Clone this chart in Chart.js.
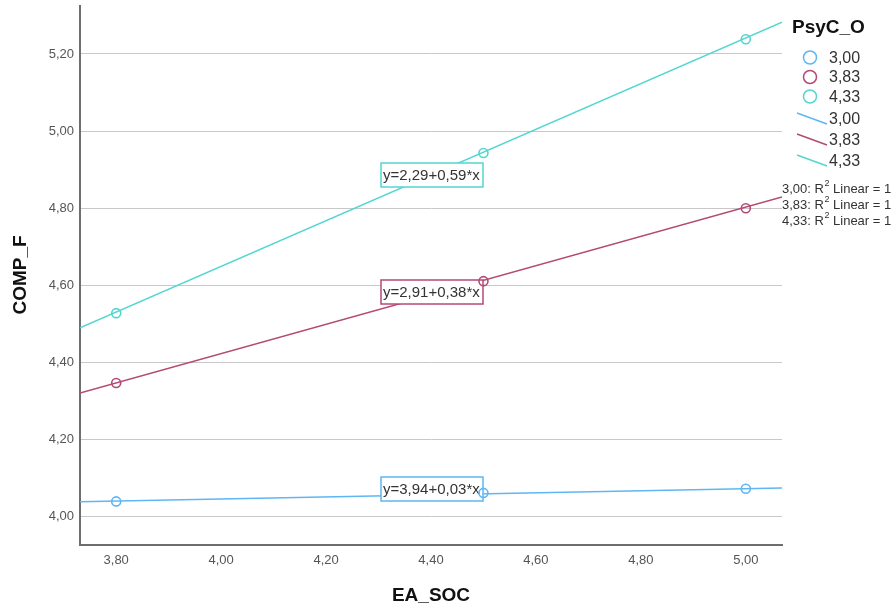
<!DOCTYPE html>
<html>
<head>
<meta charset="utf-8">
<script src="https://cdn.jsdelivr.net/npm/chart.js@4.4.1/dist/chart.umd.min.js"></script>
<style>
html, body { margin: 0; padding: 0; background: #fff; }
#wrap { width: 896px; height: 608px; }
</style>
</head>
<body>
<div id="wrap"><canvas id="chart" width="896" height="608"></canvas></div>
<script>
// groups of PsyC_O
const groups = ['3,00', '3,83', '4,33'];
const colors = ['#5db7f5', '#b44a74', '#52d6d0'];

// EA_SOC values of the points
const easoc = [3.80, 4.50, 5.00];
// COMP_F values per group
const compF = [
    [4.040, 4.062, 4.073],
    [4.347, 4.611, 4.800],
    [4.528, 4.943, 5.238]
];

// axis range
const xMin = 3.731, xMax = 5.069;
const yMin = 3.927, yMax = 5.324;

// fit line values read at the left and right end of the x axis
const fitLeft = [4.039, 4.321, 4.490];
const fitRight = [4.075, 4.829, 5.282];

const equations = ['y=3,94+0,03*x', 'y=2,91+0,38*x', 'y=2,29+0,59*x'];
// where the equation boxes sit (data units: left x, top y)
const eqBoxX = 4.305;
const eqBoxTop = [4.1036, 4.614, 4.917];

const fmt = v => v.toFixed(2).replace('.', ',');
const FONT = '"Liberation Sans", Arial, sans-serif';

const datasets = [];
groups.forEach((g, i) => {
    datasets.push({
        type: 'scatter',
        label: g,
        data: easoc.map((x, j) => ({ x: x, y: compF[i][j] })),
        borderColor: colors[i],
        backgroundColor: 'rgba(255,255,255,0)',
        pointRadius: 4.5,
        pointBorderWidth: 1.6,
        pointHoverRadius: 4.5
    });
});
groups.forEach((g, i) => {
    datasets.push({
        type: 'line',
        label: g,
        data: [{ x: xMin, y: fitLeft[i] }, { x: xMax, y: fitRight[i] }],
        borderColor: colors[i],
        borderWidth: 1.5,
        pointRadius: 0,
        fill: false
    });
});

// equation boxes go above the lines, below the points
const eqBoxes = {
    id: 'eqBoxes',
    afterDatasetDraw(chart, args) {
        if (args.index !== groups.length) return;
        const ctx = chart.ctx;
        const xs = chart.scales.x, ys = chart.scales.y;
        ctx.save();
        ctx.font = '15px ' + FONT;
        ctx.textBaseline = 'middle';
        equations.forEach((t, i) => {
            const left = Math.round(xs.getPixelForValue(eqBoxX));
            const top = Math.round(ys.getPixelForValue(eqBoxTop[i]));
            const w = 102, h = 24;
            ctx.fillStyle = '#fff';
            ctx.fillRect(left, top, w, h);
            ctx.strokeStyle = colors[i];
            ctx.lineWidth = 1.5;
            ctx.strokeRect(left, top, w, h);
            ctx.fillStyle = '#333';
            ctx.fillText(t, left + 2, top + h / 2 + 1);
        });
        ctx.restore();
    }
};

// axis titles, legend and R2 notes
const extras = {
    id: 'extras',
    afterDraw(chart) {
        const ctx = chart.ctx;
        ctx.save();
        ctx.fillStyle = '#111';
        ctx.font = 'bold 19px ' + FONT;
        ctx.textAlign = 'center';
        ctx.textBaseline = 'middle';
        ctx.fillText('EA_SOC', 431, 596);
        ctx.save();
        ctx.translate(21, 275);
        ctx.rotate(-Math.PI / 2);
        ctx.fillText('COMP_F', 0, 0);
        ctx.restore();

        // legend
        ctx.textAlign = 'left';
        ctx.font = 'bold 19px ' + FONT;
        ctx.fillText('PsyC_O', 792, 28);
        ctx.font = '16px ' + FONT;
        groups.forEach((g, i) => {
            const cy = 57.5 + i * 19.5;
            ctx.strokeStyle = colors[i];
            ctx.lineWidth = 1.5;
            ctx.beginPath();
            ctx.arc(810, cy, 6.5, 0, Math.PI * 2);
            ctx.stroke();
            ctx.fillStyle = '#333';
            ctx.fillText(g, 829, cy + 1);
        });
        groups.forEach((g, i) => {
            const cy = 119 + i * 21;
            ctx.strokeStyle = colors[i];
            ctx.lineWidth = 1.5;
            ctx.beginPath();
            ctx.moveTo(797, cy - 6);
            ctx.lineTo(827, cy + 5);
            ctx.stroke();
            ctx.fillStyle = '#333';
            ctx.fillText(g, 829, cy + 1);
        });

        // R2 notes
        groups.forEach((g, i) => {
            const y = 189 + i * 16;
            let x = 782;
            ctx.font = '13px ' + FONT;
            const a = g + ': R';
            ctx.fillText(a, x, y);
            x += ctx.measureText(a).width;
            ctx.font = '9px ' + FONT;
            ctx.fillText('2', x + 0.5, y - 5);
            x += ctx.measureText('2').width + 0.5;
            ctx.font = '13px ' + FONT;
            ctx.fillText(' Linear = 1', x, y);
        });
        ctx.restore();
    }
};

new Chart(document.getElementById('chart'), {
    type: 'scatter',
    data: { datasets: datasets },
    options: {
        responsive: false,
        animation: false,
        events: [],
        layout: { padding: { top: 6, right: 114, left: 0, bottom: 0 } },
        plugins: {
            legend: { display: false },
            tooltip: { enabled: false }
        },
        scales: {
            x: {
                type: 'linear',
                min: xMin,
                max: xMax,
                afterFit: s => { s.height = 63; s.paddingLeft = 0; s.paddingRight = 0; },
                grid: { display: false, drawTicks: false },
                border: { display: true, color: '#6e6e6e', width: 2 },
                ticks: {
                    stepSize: 0.2,
                    includeBounds: false,
                    padding: 8,
                    color: '#555',
                    font: { family: FONT, size: 13 },
                    callback: v => fmt(v)
                }
            },
            y: {
                type: 'linear',
                min: yMin,
                max: yMax,
                afterFit: s => { s.width = 80; s.paddingTop = 0; s.paddingBottom = 0; },
                grid: { color: '#c8c8c8', lineWidth: 1, drawTicks: false },
                border: { display: true, color: '#6e6e6e', width: 2 },
                ticks: {
                    stepSize: 0.2,
                    includeBounds: false,
                    padding: 6,
                    color: '#555',
                    font: { family: FONT, size: 13 },
                    callback: v => fmt(v)
                }
            }
        }
    },
    plugins: [eqBoxes, extras]
});
</script>
</body>
</html>
